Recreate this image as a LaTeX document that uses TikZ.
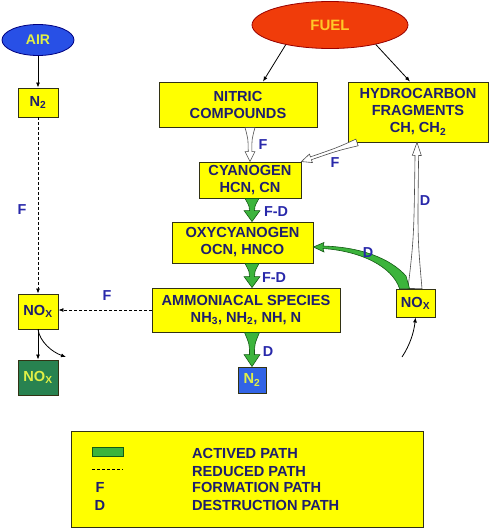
\documentclass[tikz,border=0pt]{standalone}
\usepackage{fontspec}
\setmainfont{Liberation Sans}
\usetikzlibrary{calc,arrows.meta,shapes.geometric}
\definecolor{txt}{RGB}{30,30,110}
\definecolor{lbl}{RGB}{40,40,170}
\definecolor{boxy}{RGB}{255,255,0}
\definecolor{boxline}{RGB}{50,50,20}
\definecolor{grn}{RGB}{60,180,60}
\definecolor{grnline}{RGB}{20,90,20}
\definecolor{dkgrn}{RGB}{40,130,80}
\definecolor{bluebox}{RGB}{50,100,230}
\definecolor{airblue}{RGB}{40,80,230}
\definecolor{fuelred}{RGB}{240,60,10}
\definecolor{fueltxt}{RGB}{255,200,40}
\definecolor{ytxt}{RGB}{225,240,70}
\newcommand\TaperArrow[7]{%
  \coordinate (tA) at (#1); \coordinate (tB) at (#2);
  \coordinate (tH) at ($(tB)!#6!(tA)$);
  \coordinate (tC) at ($(tA)!0.35!(tB)$);
  \filldraw[#7] ($(tA)!#3!90:(tB)$) .. controls ($(tC)!#4!90:(tB)$) .. ($(tH)!#4!-90:(tA)$)
    -- ($(tH)!#5!-90:(tA)$) -- (tB) -- ($(tH)!#5!90:(tA)$) -- ($(tH)!#4!90:(tA)$)
    .. controls ($(tC)!#4!-90:(tB)$) .. ($(tA)!#3!-90:(tB)$) -- cycle;}
\begin{document}
\begin{tikzpicture}[x=1pt,y=-1pt,
  ybox/.style={draw=boxline, fill=boxy, line width=0.9pt, inner sep=0pt, align=center,
    text=txt, font=\bfseries\fontsize{14.6}{17}\selectfont},
  lab/.style={text=lbl, font=\bfseries\fontsize{14.4}{16}\selectfont, inner sep=0pt},
  legtxt/.style={text=txt, font=\bfseries\fontsize{14.6}{16}\selectfont, inner sep=0pt, anchor=west},
  blk/.style={draw=black, line width=0.8pt, -{Latex[length=5pt,width=4pt]}},
  dashline/.style={draw=black, line width=0.8pt, dash pattern=on 3pt off 2pt, -{Latex[length=5pt,width=4pt]}},
  hollow/.style={fill=white, draw=black!70, line width=0.6pt},
  greenarr/.style={fill=grn, draw=grnline, line width=0.6pt}]
\useasboundingbox (0,0) rectangle (491,530);
\fill[white] (0,0) rectangle (491,530);

% ellipses
\node[ellipse, draw=blue!50!black, fill=airblue, line width=0.8pt, minimum width=72pt, minimum height=31pt, inner sep=0pt,
  text=ytxt, font=\bfseries\fontsize{14}{16}\selectfont] (air) at (38,40) {AIR};
\node[ellipse, draw=red!60!black, fill=fuelred, line width=0.8pt, minimum width=156pt, minimum height=47pt, inner sep=0pt,
  text=fueltxt, font=\bfseries\fontsize{15}{16}\selectfont] (fuel) at (330,25) {FUEL};

% boxes
\node[ybox, minimum width=40pt, minimum height=29pt] (n2l) at (38,102.5) {N\textsubscript{2}};
\node[ybox, minimum width=40pt, minimum height=35pt] (noxl) at (38,311.5) {NO\textsubscript{X}};
\node[ybox, fill=dkgrn, text=ytxt, minimum width=40pt, minimum height=35pt] (noxg) at (38,377.5) {NO\textsubscript{X}};
\node[ybox, minimum width=158pt, minimum height=45pt] (nitric) at (238,104.5) {NITRIC\\COMPOUNDS};
\node[ybox, minimum width=140pt, minimum height=60pt] (hydro) at (418,112) {HYDROCARBON\\FRAGMENTS\\CH, CH\textsubscript{2}};
\node[ybox, minimum width=102pt, minimum height=36pt] (cyan) at (250,180) {CYANOGEN\\HCN, CN};
\node[ybox, minimum width=141pt, minimum height=41pt] (oxy) at (242.5,242.5) {OXYCYANOGEN\\OCN,\ HNCO};
\node[ybox, minimum width=188pt, minimum height=44pt] (amm) at (246,310) {AMMONIACAL SPECIES\\NH\textsubscript{3}, NH\textsubscript{2}, NH, N};
\node[ybox, fill=bluebox, text=ytxt, minimum width=28pt, minimum height=26pt] (n2b) at (252,380) {N\textsubscript{2}};
\node[ybox, minimum width=39pt, minimum height=28pt] (noxr) at (415.5,303) {NO\textsubscript{X}};

% thin black arrows
\draw[blk] (air) -- (n2l);
\draw[blk] (fuel.-156) -- ($(nitric.north)+(25,0)$);
\draw[blk] (fuel.-23) -- ($(hydro.north)+(-8,0)$);
\draw[blk] (noxl) -- (noxg);
\coordinate (outL) at (66,357);
\draw[blk] (noxl.south) .. controls (40,342) and (52,352) .. (outL);
\coordinate (inR) at (402,357);
\draw[blk] (inR) .. controls (410,345) and (414,332) .. (noxr.south);

% dashed
\draw[dashline] (n2l) -- (noxl);
\draw[dashline] (amm.west) -- (amm.west -| noxl.east);

% hollow arrows
\TaperArrow{$(nitric.south)+(12,0)$}{cyan.north}{5pt}{1.8pt}{5pt}{10pt}{hollow}
\TaperArrow{$(hydro.south)+(-61,0)$}{cyan.north east}{3.5pt}{1.5pt}{4.5pt}{10pt}{hollow}
\TaperArrow{$(noxr.north)+(-0.5,0)$}{$(hydro.south)+(-1,0)$}{7pt}{1.8pt}{4.5pt}{13pt}{hollow}

% green arrows
\TaperArrow{$(cyan.south)+(2,0)$}{$(oxy.north)+(9.5,0)$}{7pt}{2.5pt}{8pt}{11pt}{greenarr}
\TaperArrow{$(oxy.south)+(9.5,0)$}{$(amm.north)+(6,0)$}{7pt}{2.5pt}{8pt}{11pt}{greenarr}
\TaperArrow{$(amm.south)+(6,0)$}{n2b.north}{7.5pt}{2.5pt}{8pt}{12pt}{greenarr}
\coordinate (gtip) at ($(oxy.east)+(0,4.5)$);
\filldraw[greenarr] ($(noxr.north west)+(4,0)$) .. controls (392,266) and (360,251) .. (323,248.5)
  -- (324,252) -- (gtip) -- (324,242.5) -- (323,246)
  .. controls (360,247) and (390,258) .. (406,276) -- ($(noxr.north west)+(14,0)$) -- cycle;

% labels
\node[lab] (lF1) at (22,210) {F};
\node[lab] (lF2) at (107,296) {F};
\node[lab] (lF3) at (263,145) {F};
\node[lab] (lF4) at (335,163) {F};
\node[lab] (lFD1) at (276,212) {F-D};
\node[lab] (lFD2) at (274,278) {F-D};
\node[lab] (lD1) at (268,352) {D};
\node[lab] (lD2) at (368,253) {D};
\node[lab] (lD3) at (425,201) {D};

% legend
\node[draw=boxline, fill=boxy, line width=0.9pt, minimum width=352pt, minimum height=96pt, inner sep=0pt] (legend) at (247,479) {};
\node[fill=grn, draw=grnline, line width=0.6pt, minimum width=31pt, minimum height=9pt, inner sep=0pt] (lgreen) at (107.5,451.5) {};
\coordinate (ld1) at (92,469); \coordinate (ld2) at (123,469);
\draw[line width=0.8pt, dash pattern=on 3pt off 2pt] (ld1) -- (ld2);
\node[legtxt, anchor=center] (lgF) at (100,487) {F};
\node[legtxt, anchor=center] (lgD) at (100,505) {D};
\node[legtxt] (t1) at (192,453) {ACTIVED PATH};
\node[legtxt] (t2) at (192,471) {REDUCED PATH};
\node[legtxt] (t3) at (192,487) {FORMATION PATH};
\node[legtxt] (t4) at (192,505) {DESTRUCTION PATH};
\end{tikzpicture}
\end{document}
